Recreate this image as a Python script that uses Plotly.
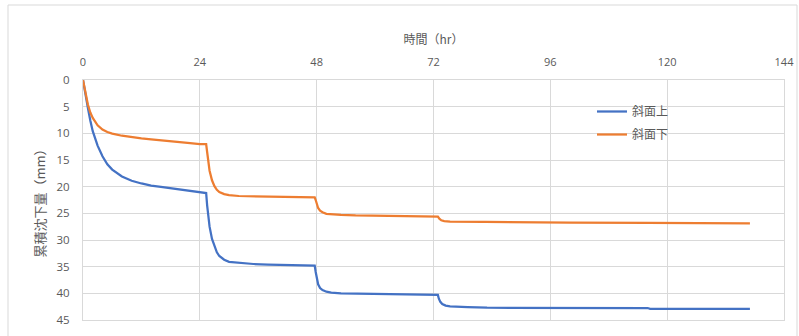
import plotly.graph_objects as go

# Elapsed time (hr) and cumulative settlement (mm) for each gauge
time_upper = [0, 0.5, 1, 1.5, 2, 3, 4, 5, 6, 8,
              10, 12, 14, 16, 18, 20, 22, 24, 25.3, 25.5,
              25.7, 26, 26.5, 27, 27.5, 28, 29, 30, 32, 35,
              38, 42, 45, 47.6, 47.8, 48, 48.3, 48.7, 49.2, 50,
              51, 53, 56, 60, 65, 68, 72, 72.9, 73.1, 73.4,
              73.8, 74.5, 75.4, 77, 79, 83, 89, 100, 116, 116.5,
              137]
settle_upper = [0, 2.9, 5.2, 7.6, 9.6, 12.3, 14.3, 15.8, 16.8, 18.1,
                18.9, 19.4, 19.8, 20.05, 20.3, 20.55, 20.8, 21.1, 21.2, 23.5,
                25.5, 27.5, 29.8, 31.2, 32.3, 33.0, 33.7, 34.1, 34.3, 34.5,
                34.6, 34.7, 34.75, 34.8, 36.0, 37.3, 38.3, 39.0, 39.4, 39.7,
                39.85, 40.0, 40.05, 40.1, 40.1, 40.25, 40.3, 40.3, 41.0, 41.6,
                42.0, 42.3, 42.45, 42.55, 42.6, 42.7, 42.7, 42.75, 42.75, 42.9,
                42.9]

time_lower = [0, 0.5, 1, 1.5, 2, 3, 4, 5, 6, 8,
              10, 12, 14, 16, 18, 20, 22, 24, 25.3, 25.5,
              25.7, 26, 26.5, 27, 27.5, 28, 29, 30, 32, 35,
              40, 45, 47.6, 47.8, 48, 48.3, 48.7, 49.2, 50, 51,
              53, 56, 60, 65, 72, 72.7, 72.9, 73.2, 73.6, 74.2,
              75.4, 82, 82.6, 100, 115.5, 116, 137]
settle_lower = [0, 2.6, 4.6, 6.1, 7.1, 8.5, 9.3, 9.75, 10.05, 10.45,
                10.75, 10.95, 11.15, 11.35, 11.5, 11.65, 11.85, 12.0, 12.0, 13.5,
                15.2, 17.0, 18.8, 19.9, 20.6, 21.0, 21.4, 21.6, 21.75, 21.8,
                21.9, 21.95, 22.0, 22.5, 23.3, 24.0, 24.5, 24.8, 25.1, 25.2,
                25.3, 25.4, 25.45, 25.5, 25.55, 25.6, 25.6, 26.0, 26.3, 26.45,
                26.55, 26.6, 26.6, 26.75, 26.75, 26.8, 26.9]

series_names = ["斜面上", "斜面下"]
x_ticks = [0, 24, 48, 72, 96, 120, 144]
y_ticks = [0, 5, 10, 15, 20, 25, 30, 35, 40, 45]

FONT = "Noto Sans CJK JP"
NUM_FONT = "Open Sans"
GRID = "#d9d9d9"
TEXT = "#595959"

fig = go.Figure()
fig.add_trace(go.Scatter(x=time_upper, y=settle_upper, mode="lines", name=series_names[0],
                         legendgroup="a",
                         line=dict(color="#4472C4", width=2.25)))
fig.add_trace(go.Scatter(x=time_lower, y=settle_lower, mode="lines", name=series_names[1],
                         legendgroup="b",
                         line=dict(color="#ED7D31", width=2.25)))

L, R, T, B = 83, 15, 80, 16
W, H = 799, 336
pw, ph = W - L - R, H - T - B

fig.update_layout(
    width=W, height=H,
    margin=dict(l=L, r=R, t=T, b=B, autoexpand=False),
    paper_bgcolor="white", plot_bgcolor="white",
    font=dict(family=FONT, color=TEXT, size=11),
    legend=dict(x=(592 - L) / pw, y=(ph - (97 - T)) / ph, xanchor="left", yanchor="top",
                bgcolor="rgba(0,0,0,0)", font=dict(size=12, color=TEXT),
                tracegroupgap=4, traceorder="grouped"),
    xaxis=dict(side="top", range=[0, 144], tickvals=x_ticks, ticktext=[str(v) for v in x_ticks],
               showgrid=True, gridcolor=GRID, gridwidth=1, zeroline=False,
               showline=True, linecolor=GRID, mirror=True, ticks="",
               ticklabelstandoff=9, automargin=False,
               tickfont=dict(family=NUM_FONT, size=11, color=TEXT),
               title=dict(text="時間（hr）", font=dict(size=12, color=TEXT), standoff=6)),
    yaxis=dict(range=[45, 0], tickvals=y_ticks, ticktext=[str(v) for v in y_ticks],
               showgrid=True, gridcolor=GRID, gridwidth=1, zeroline=False,
               showline=True, linecolor=GRID, mirror=True, ticks="",
               ticklabelstandoff=10, automargin=False,
               tickfont=dict(family=NUM_FONT, size=11.5, color=TEXT),
               title=dict(text="累積沈下量（mm）", font=dict(size=13, color=TEXT), standoff=7)),
    shapes=[dict(type="rect", xref="paper", yref="paper",
                 x0=(8 - L) / pw, x1=(797 - L) / pw,
                 y0=-(H + 10 - (T + ph)) / ph, y1=(ph + T - 5) / ph,
                 line=dict(color=GRID, width=1), fillcolor="rgba(0,0,0,0)", layer="below")],
)

fig.write_html("out.html")
